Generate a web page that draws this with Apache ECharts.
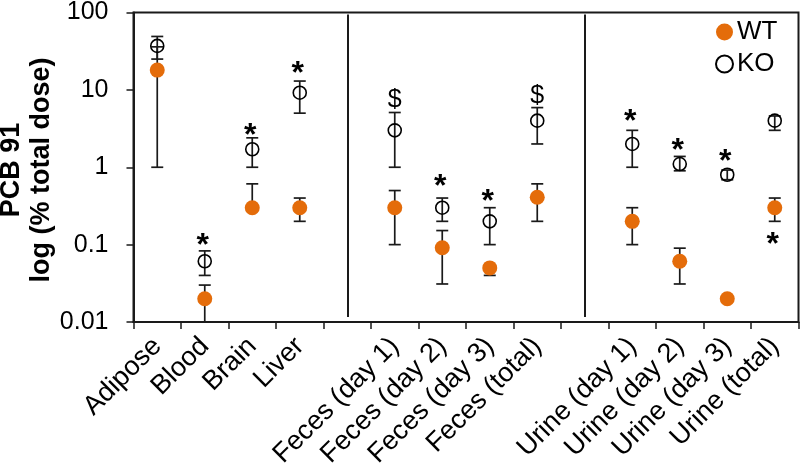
<!DOCTYPE html>
<html>
<head>
<meta charset="utf-8">
<script src="https://cdn.jsdelivr.net/npm/echarts@6/dist/echarts.min.js"></script>
<style>html,body{margin:0;padding:0;background:#fff}#c{width:800px;height:473px}</style>
</head>
<body>
<div id="c"></div>
<script>
// ---- data ----
const categories = ['Adipose','Blood','Brain','Liver',' ','Feces (day 1)','Feces (day 2)','Feces (day 3)','Feces (total)','  ','Urine (day 1)','Urine (day 2)','Urine (day 3)','Urine (total)'];
const wtValues = [18, 0.020, 0.30, 0.30, null, 0.30, 0.091, 0.050, 0.41, null, 0.20, 0.061, 0.020, 0.30];
const wtLow    = [1, 0.010, 0.30, 0.20, null, 0.10, 0.031, 0.040, 0.20, null, 0.10, 0.031, 0.020, 0.20];
const wtHigh   = [36, 0.030, 0.61, 0.40, null, 0.50, 0.152, 0.050, 0.61, null, 0.30, 0.090, 0.020, 0.40];
const koValues = [37, 0.061, 1.71, 9.2, null, 3.0, 0.30, 0.20, 4.0, null, 2.0, 1.1, 0.80, 4.0];
const koLow    = [25, 0.040, 1.0, 5.0, null, 1.0, 0.20, 0.10, 2.0, null, 1.0, 0.90, 0.69, 3.0];
const koHigh   = [49, 0.083, 2.4, 13, null, 5.1, 0.40, 0.30, 5.9, null, 3.0, 1.38, 0.92, 4.6];
const annCategory = [1, 2, 3, 5, 6, 7, 8, 10, 11, 12, 13];
const annText     = ['*', '*', '*', '$', '*', '*', '$', '*', '*', '*', '*'];
const annValue    = [0.117, 3.13, 19.5, 7.3, 0.69, 0.44, 8.3, 4.7, 2.0, 1.45, 0.12];
const separators  = [4, 9];
const separatorRange = [0.0116, 94];
const yTickLabels = ['0.01', '0.1', '1', '10', '100'];
const seriesNames = ['WT', 'KO'];
const yTitle = ['PCB 91', 'log (% total dose)'];

// ---- chart ----
const FONT = "'Liberation Sans', Arial, Helvetica, sans-serif";
const ORANGE = '#E46C0A';
const INK = '#1a1a1a';
const chart = echarts.init(document.getElementById('c'), null, {renderer: 'canvas'});

function errData(vals, lo, hi) {
  const out = [];
  vals.forEach((v, i) => { if (v != null) out.push([i, lo[i], hi[i], v]); });
  return out;
}
function pointData(vals) {
  const out = [];
  vals.forEach((v, i) => { if (v != null) out.push([i, v]); });
  return out;
}
function renderErr(params, api) {
  const x = api.value(0), lo = api.value(1), hi = api.value(2), v = api.value(3);
  const pLo = api.coord([x, lo]), pHi = api.coord([x, hi]);
  const hw = 6;
  const st = {stroke: INK, lineWidth: 1.7};
  const ch = [];
  if (hi > lo) ch.push({type: 'line', shape: {x1: pLo[0], y1: pLo[1], x2: pHi[0], y2: pHi[1]}, style: st});
  if (hi > v) ch.push({type: 'line', shape: {x1: pHi[0] - hw, y1: pHi[1], x2: pHi[0] + hw, y2: pHi[1]}, style: st});
  if (lo < v) ch.push({type: 'line', shape: {x1: pLo[0] - hw, y1: pLo[1], x2: pLo[0] + hw, y2: pLo[1]}, style: st});
  return {type: 'group', children: ch};
}

const option = {
  backgroundColor: '#fff',
  animation: false,
  textStyle: {fontFamily: FONT},
  grid: {left: 133.5, right: 1.5, top: 11, bottom: 151, show: true, borderColor: INK, borderWidth: 2, backgroundColor: 'transparent'},
  legend: {
    orient: 'vertical', left: 710, top: 14, itemWidth: 17, itemHeight: 17, itemGap: 6,
    textStyle: {fontSize: 26, color: '#000', fontFamily: FONT, padding: [0, 0, 0, -1]},
    data: [{name: seriesNames[0], icon: 'circle'}, {name: seriesNames[1], icon: 'circle'}]
  },
  xAxis: {
    type: 'category', data: categories, boundaryGap: true,
    axisLine: {lineStyle: {color: INK, width: 2}},
    axisTick: {show: true, length: 7, lineStyle: {color: INK, width: 1.5}, alignWithLabel: false, interval: 0},
    axisLabel: {interval: 0, rotate: 45, fontSize: 27, color: '#000', margin: 20, padding: [25, 0, 0, 0], fontFamily: FONT},
    splitLine: {show: false}
  },
  yAxis: {
    type: 'log', logBase: 10, min: 0.01, max: 100,
    axisLine: {show: true, lineStyle: {color: INK, width: 2}},
    axisTick: {show: true, length: 7, lineStyle: {color: INK, width: 1.5}},
    minorTick: {show: false},
    axisLabel: {fontSize: 25, color: '#000', margin: 25, fontFamily: FONT,
      formatter: v => yTickLabels[Math.round(Math.log10(v)) + 2]},
    splitLine: {show: false}
  },
  graphic: [
    {type: 'text', x: 12, y: 170, rotation: Math.PI / 2,
      style: {text: yTitle[0], font: 'bold 27px ' + FONT, fill: '#000', textAlign: 'center', textVerticalAlign: 'middle'}},
    {type: 'text', x: 42, y: 170, rotation: Math.PI / 2,
      style: {text: yTitle[1], font: 'bold 27px ' + FONT, fill: '#000', textAlign: 'center', textVerticalAlign: 'middle'}}
  ],
  series: [
    {type: 'custom', name: 'errWT', renderItem: renderErr, data: errData(wtValues, wtLow, wtHigh), z: 2, silent: true},
    {type: 'custom', name: 'errKO', renderItem: renderErr, data: errData(koValues, koLow, koHigh), z: 2, silent: true},
    {type: 'scatter', name: seriesNames[0], data: pointData(wtValues), symbol: 'circle', symbolSize: 15,
      itemStyle: {color: ORANGE, opacity: 1}, z: 3},
    {type: 'scatter', name: seriesNames[1], data: pointData(koValues), symbol: 'circle', symbolSize: 13,
      itemStyle: {color: 'rgba(255,255,255,0)', borderColor: '#000', borderWidth: 1.6, opacity: 1}, z: 4,
      markLine: {
        silent: true, symbol: 'none', label: {show: false},
        lineStyle: {color: INK, width: 2, type: 'solid', opacity: 1},
        data: separators.map(s => [{coord: [s, separatorRange[0]]}, {coord: [s, separatorRange[1]]}])
      }},
    {type: 'scatter', name: 'annotations', symbolSize: 1, itemStyle: {color: 'rgba(0,0,0,0)', opacity: 1}, z: 5, silent: true,
      data: annCategory.map((c, i) => ({
        value: [c, annValue[i]], name: annText[i],
        label: {show: true, position: 'inside', formatter: annText[i],
          fontSize: annText[i] === '*' ? 32 : 25, fontWeight: annText[i] === '*' ? 'bold' : 'normal',
          color: '#000', textBorderWidth: 0, fontFamily: FONT, offset: annText[i] === '*' ? [-2, 7] : [0, 0]}
      }))}
  ]
};
chart.setOption(option);
</script>
</body>
</html>
